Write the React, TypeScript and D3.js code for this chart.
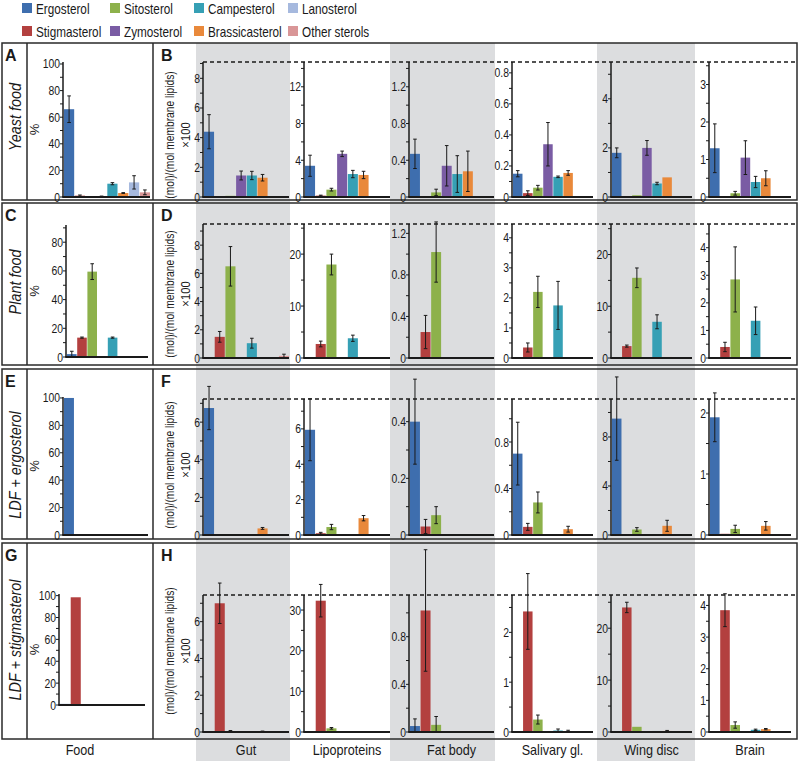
import React from "react";
import * as d3 from "d3";

// sterol classes, in bar order inside every panel
const sterols = ["Ergosterol", "Stigmasterol", "Sitosterol", "Zymosterol", "Campesterol", "Brassicasterol", "Lanosterol", "Other sterols"];
const sterolColors = ["#3e6eae", "#b3403f", "#8db14b", "#7a5ca4", "#36a0b5", "#e9893b", "#a6b9de", "#d99697"];
const legendOrder = [0, 2, 4, 6, 1, 3, 5, 7];

const tissues = ["Gut", "Lipoproteins", "Fat body", "Salivary gl.", "Wing disc", "Brain"];
const diets = ["Yeast food", "Plant food", "LDF + ergosterol", "LDF + stigmasterol"];
const panelLetters = [["A", "B"], ["C", "D"], ["E", "F"], ["G", "H"]];

// food composition, % of sterols
const yeastFood = [66, 1, 0, 0.5, 10, 3, 11, 3.5];
const yeastFoodSd = [10, 0.5, 0, 0.2, 0.8, 0.3, 5, 1.8];
const plantFood = [2, 13.5, 59.5, 0, 13.5, 0, 0, 0];
const plantFoodSd = [2, 0.4, 5.5, 0, 0.4, 0, 0, 0];
const ergoFood = [100, 0, 0, 0, 0, 0, 0, 0];
const ergoFoodSd = [0, 0, 0, 0, 0, 0, 0, 0];
const stigFood = [1, 98.5, 0, 0, 0, 0, 0, 0];
const stigFoodSd = [0, 0, 0, 0, 0, 0, 0, 0];
const foodMax = [101.5, 92, 100.7, 101.5];

// tissue sterols, (mol)/(mol membrane lipids) x100, one array per tissue
const yeastTissue = [
  [4.4, 0, 0.08, 1.45, 1.45, 1.3, 0, 0],
  [3.4, 0.15, 0.8, 4.7, 2.5, 2.4, 0, 0],
  [0.47, 0, 0.05, 0.34, 0.25, 0.28, 0, 0],
  [0.15, 0.025, 0.06, 0.34, 0.13, 0.155, 0, 0],
  [1.8, 0, 0.07, 2.0, 0.55, 0.8, 0, 0],
  [1.3, 0.02, 0.1, 1.05, 0.4, 0.5, 0, 0],
];
const yeastTissueSd = [
  [1.15, 0, 0, 0.3, 0.28, 0.22, 0, 0],
  [1.15, 0.05, 0.15, 0.3, 0.4, 0.4, 0, 0],
  [0.16, 0, 0.035, 0.22, 0.2, 0.22, 0, 0],
  [0.02, 0.015, 0.015, 0.14, 0.005, 0.015, 0, 0],
  [0.2, 0, 0, 0.3, 0.05, 0, 0, 0],
  [0.65, 0, 0.05, 0.45, 0.15, 0.2, 0, 0],
];
const yeastMax = [9.1, 14.7, 1.47, 0.87, 5.5, 3.6];
const yeastStep = [2, 4, 0.4, 0.2, 2, 1];

const plantTissue = [
  [0, 1.5, 6.5, 0, 1.05, 0, 0, 0.15],
  [0, 2.7, 18, 0, 3.8, 0, 0, 0],
  [0, 0.25, 1.02, 0, 0, 0, 0, 0],
  [0, 0.35, 2.2, 0, 1.75, 0.02, 0, 0],
  [0, 2.3, 15.5, 0, 7, 0.2, 0, 0],
  [0, 0.4, 2.85, 0, 1.35, 0.03, 0, 0],
];
const plantTissueSd = [
  [0, 0.38, 1.4, 0, 0.35, 0, 0, 0.12],
  [0, 0.55, 2, 0, 0.6, 0, 0, 0],
  [0, 0.16, 0.29, 0, 0, 0, 0, 0],
  [0, 0.15, 0.52, 0, 0.8, 0, 0, 0],
  [0, 0.2, 1.9, 0, 1.35, 0, 0, 0],
  [0, 0.17, 1.18, 0, 0.5, 0, 0, 0],
];
const plantMax = [9.5, 25.8, 1.29, 4.46, 25.9, 4.86];
const plantStep = [2, 10, 0.4, 1, 10, 1];

const ergoTissue = [
  [6.75, 0, 0, 0, 0, 0.35, 0, 0],
  [5.95, 0.1, 0.45, 0, 0, 0.95, 0, 0],
  [0.4, 0.03, 0.07, 0, 0, 0, 0, 0],
  [0.7, 0.07, 0.28, 0, 0, 0.05, 0, 0],
  [9.5, 0.05, 0.45, 0.05, 0, 0.75, 0, 0],
  [1.93, 0.02, 0.1, 0, 0, 0.15, 0, 0],
];
const ergoTissueSd = [
  [1.15, 0, 0, 0, 0, 0.05, 0, 0],
  [1.75, 0.05, 0.15, 0, 0, 0.15, 0, 0],
  [0.15, 0.025, 0.03, 0, 0, 0, 0, 0],
  [0.27, 0.03, 0.09, 0, 0, 0.025, 0, 0],
  [3.4, 0, 0.15, 0, 0, 0.45, 0, 0],
  [0.4, 0, 0.06, 0, 0, 0.07, 0, 0],
];
const ergoMax = [7.23, 7.69, 0.48, 1.17, 11.1, 2.23];
const ergoStep = [2, 2, 0.2, 0.4, 4, 1];

const stigTissue = [
  [0, 7.0, 0.05, 0, 0, 0.03, 0, 0],
  [0, 32.3, 0.9, 0, 0, 0, 0, 0],
  [0.05, 1.02, 0.06, 0, 0, 0, 0, 0],
  [0, 2.42, 0.25, 0, 0.03, 0.02, 0, 0],
  [0, 24, 1.0, 0, 0.2, 0.2, 0, 0],
  [0, 3.85, 0.22, 0, 0.07, 0.09, 0, 0],
];
const stigTissueSd = [
  [0, 1.1, 0.03, 0, 0, 0.02, 0, 0],
  [0, 4, 0.2, 0, 0, 0, 0, 0],
  [0.06, 0.51, 0.07, 0, 0, 0, 0, 0],
  [0, 0.76, 0.09, 0, 0.03, 0.015, 0, 0],
  [0, 1, 0, 0, 0, 0.1, 0, 0],
  [0, 0.52, 0.1, 0, 0.02, 0.02, 0, 0],
];
const stigMax = [7.45, 33.7, 1.15, 2.75, 26.4, 4.33];
const stigStep = [2, 10, 0.4, 1, 10, 1];

// layout
const W = 799, H = 761;
const rowTop = [43, 203, 369, 543];
const rowBottom = [200, 365, 539, 739];
const dashY = [62, 224, 399, 595];
const baseY = [197, 358, 535, 732];
const foodTop = [62, 225, 397, 594];
const foodBase = [197, 357, 535, 705];
const foodX0 = [63, 66, 63, 59];
const foodX1 = [150, 148, 148, 145];
const colX0 = [203, 304, 409, 512, 611, 709];
const colX1 = [289, 390, 494, 593, 692, 791];
const grayBands = [[196, 290], [390, 495], [597, 695]];
const dietLabelY = [117, 282, 465, 640];
const unitLabelY = [135, 294, 465, 651];

const NARROW = 0.84;
const INK = "#1a1a1a";

function NText({ x, y, size, anchor = "start", rotate = 0, sx = NARROW, weight, italic, children }: any) {
  return (
    <g transform={`translate(${x},${y}) rotate(${rotate}) scale(${sx},1)`}>
      <text fontSize={size} textAnchor={anchor} fontWeight={weight} fontStyle={italic ? "italic" : undefined} fill={INK}>
        {children}
      </text>
    </g>
  );
}

const fmt = (v: number) => String(+v.toFixed(2));

function BarPanel({ x0, x1, yTop, yBase, max, step, values, sd }: any) {
  const x = d3.scaleBand().domain(sterols).range([x0 + 1, x1]).paddingInner(0.06);
  const y = d3.scaleLinear().domain([0, max]).range([yBase, yTop]);
  const ticks = d3.range(0, max + 1e-9, step / 2);
  const bw = x.bandwidth();
  return (
    <g>
      {sterols.map((s, i) =>
        values[i] > 0 ? (
          <rect key={s} x={x(s)} y={y(values[i])} width={bw} height={yBase - y(values[i])} fill={sterolColors[i]} />
        ) : null
      )}
      {sterols.map((s, i) => {
        if (!(sd[i] > 0)) return null;
        const cx = (x(s) as number) + bw / 2;
        const lo = y(Math.max(0, values[i] - sd[i]));
        const hi = y(values[i] + sd[i]);
        return (
          <g key={s} stroke={INK} strokeWidth={1}>
            <line x1={cx} x2={cx} y1={lo} y2={hi} />
            <line x1={cx - 1.8} x2={cx + 1.8} y1={lo} y2={lo} />
            <line x1={cx - 1.8} x2={cx + 1.8} y1={hi} y2={hi} />
          </g>
        );
      })}
      <line x1={x0} x2={x0} y1={yBase} y2={yTop} stroke={INK} strokeWidth={1.5} />
      <line x1={x0 - 0.75} x2={x1} y1={yBase} y2={yBase} stroke={INK} strokeWidth={2} />
      {ticks.map((t, i) => (
        <g key={i}>
          <line x1={x0 - 3} x2={x0} y1={y(t)} y2={y(t)} stroke={INK} strokeWidth={1} />
          {i % 2 === 0 ? (
            <NText x={x0 - 3} y={y(t) + 4.5} size={13} anchor="end" sx={0.8}>
              {fmt(t)}
            </NText>
          ) : null}
        </g>
      ))}
    </g>
  );
}

const foods = [yeastFood, plantFood, ergoFood, stigFood];
const foodSds = [yeastFoodSd, plantFoodSd, ergoFoodSd, stigFoodSd];
const tissueVals = [yeastTissue, plantTissue, ergoTissue, stigTissue];
const tissueSds = [yeastTissueSd, plantTissueSd, ergoTissueSd, stigTissueSd];
const tissueMax = [yeastMax, plantMax, ergoMax, stigMax];
const tissueStep = [yeastStep, plantStep, ergoStep, stigStep];

export default function App() {
  const legendX = [22, 110, 194, 288];
  return (
    <svg width={W} height={H} style={{ position: "absolute", left: 0, top: 0, background: "#fff" }} fontFamily="'Liberation Sans', Arial, sans-serif">
      {/* legend */}
      {legendOrder.map((k, i) => {
        const col = i % 4;
        const row = Math.floor(i / 4);
        const ly = row === 0 ? 3 : 26;
        return (
          <g key={k}>
            <rect x={legendX[col]} y={ly} width={10} height={10} fill={sterolColors[k]} />
            <NText x={legendX[col] + 14} y={ly + 10.5} size={14} sx={0.84}>
              {sterols[k]}
            </NText>
          </g>
        );
      })}

      {/* gray tissue bands */}
      {grayBands.map(([a, b], i) => (
        <rect key={i} x={a} y={rowTop[0]} width={b - a} height={H - rowTop[0]} fill="#dcdddf" />
      ))}

      {diets.map((d, r) => (
        <g key={d}>
          <rect x={2} y={rowTop[r]} width={795} height={rowBottom[r] - rowTop[r]} fill="none" stroke="#2a2a2a" strokeWidth={1.5} />
          <line x1={27} x2={27} y1={rowTop[r]} y2={rowBottom[r]} stroke="#2a2a2a" strokeWidth={1.5} />
          <line x1={153} x2={153} y1={rowTop[r]} y2={rowBottom[r]} stroke="#2a2a2a" strokeWidth={1.5} />
          <line x1={colX0[0]} x2={795} y1={dashY[r]} y2={dashY[r]} stroke={INK} strokeWidth={1.5} strokeDasharray="4,3" />

          <NText x={5} y={rowTop[r] + 18} size={16} weight="bold" sx={1}>{panelLetters[r][0]}</NText>
          <NText x={161} y={rowTop[r] + 18} size={16} weight="bold" sx={1}>{panelLetters[r][1]}</NText>
          <NText x={21} y={dietLabelY[r]} size={16} anchor="middle" rotate={-90} italic sx={0.9}>{d}</NText>

          <NText x={39} y={(foodTop[r] + foodBase[r]) / 2} size={13} anchor="middle" rotate={-90} sx={1}>%</NText>
          <BarPanel x0={foodX0[r]} x1={foodX1[r]} yTop={foodTop[r]} yBase={foodBase[r]} max={foodMax[r]} step={20} values={foods[r]} sd={foodSds[r]} />

          <NText x={174} y={unitLabelY[r]} size={12.5} anchor="middle" rotate={-90} sx={0.82}>(mol)/(mol membrane lipids)</NText>
          <NText x={190} y={unitLabelY[r]} size={12.5} anchor="middle" rotate={-90} sx={0.9}>×100</NText>
          {tissues.map((t, c) => (
            <BarPanel key={t} x0={colX0[c]} x1={colX1[c]} yTop={dashY[r]} yBase={baseY[r]} max={tissueMax[r][c]} step={tissueStep[r][c]} values={tissueVals[r][c]} sd={tissueSds[r][c]} />
          ))}
        </g>
      ))}

      {/* x labels */}
      <NText x={80} y={755} size={14.5} anchor="middle" sx={0.87}>Food</NText>
      {tissues.map((t, c) => (
        <NText key={t} x={(colX0[c] + colX1[c]) / 2} y={755} size={14.5} anchor="middle" sx={0.87}>
          {t}
        </NText>
      ))}
    </svg>
  );
}
